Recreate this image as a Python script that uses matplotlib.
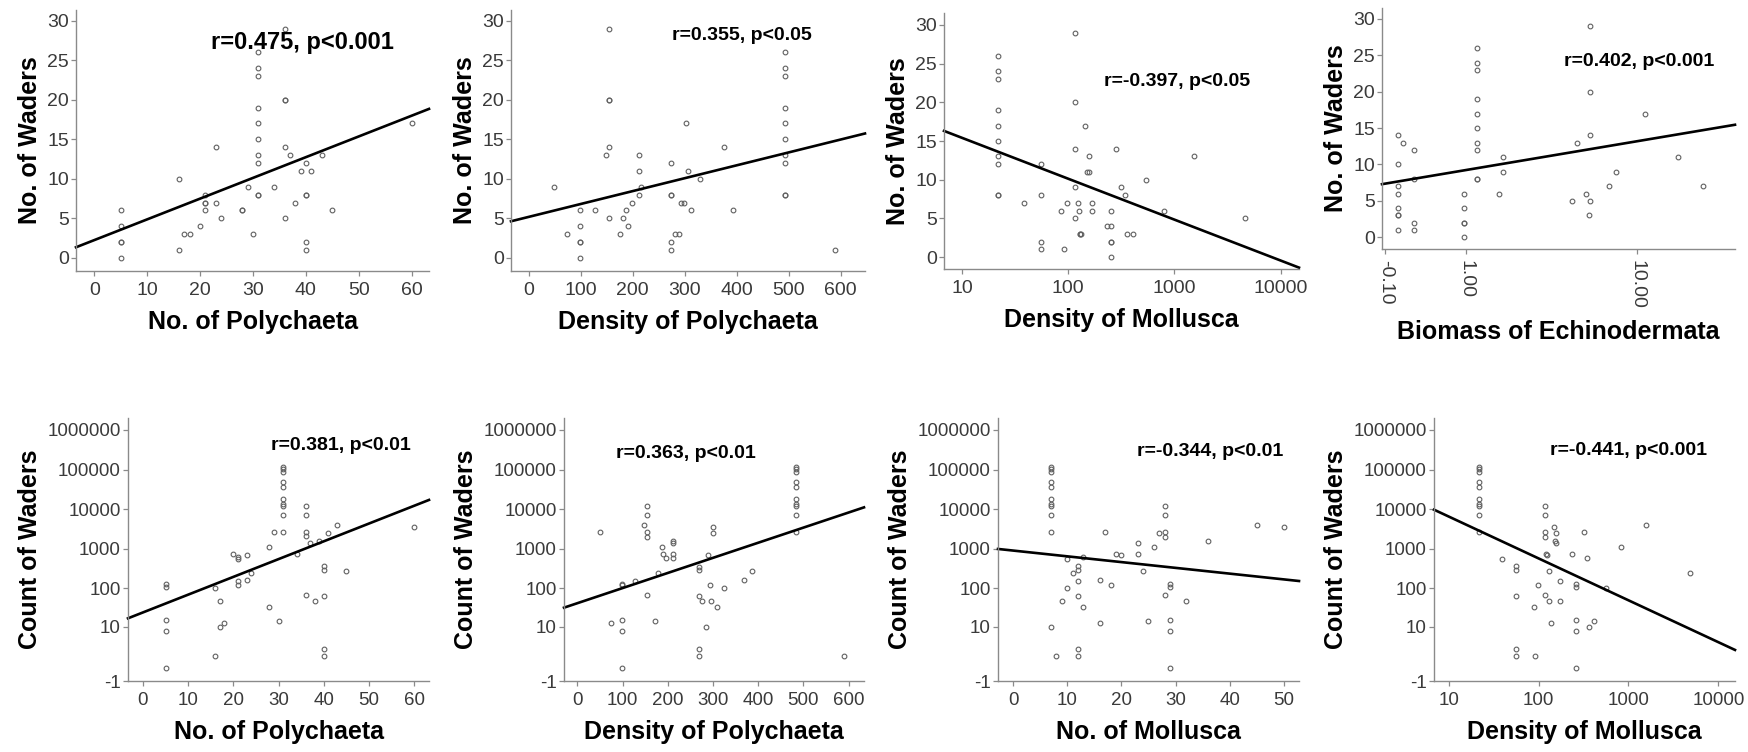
import numpy as np
import matplotlib
matplotlib.use("Agg")
import matplotlib.pyplot as plt

plt.rcParams['font.family'] = ['Liberation Sans', 'DejaVu Sans']

W, H = 1748, 752

# ---- data ----
# top row: No. of Waders
poly_no_x = [5, 5, 5, 5, 5, 16, 16, 17, 18, 20, 21, 21, 21, 21, 23, 23, 24, 28, 28, 29, 30,
             31, 31, 31, 31, 31, 31, 31, 31, 31, 31, 34, 36, 36, 36, 36, 36, 37, 38, 39,
             40, 40, 40, 40, 40, 41, 43, 45, 60]
poly_no_waders = [6, 4, 2, 2, 0, 10, 1, 3, 3, 4, 8, 7, 7, 6, 14, 7, 5, 6, 6, 9, 3,
                  26, 24, 23, 19, 17, 15, 13, 12, 8, 8, 9, 29, 20, 20, 14, 5, 13, 7, 11,
                  12, 8, 8, 2, 1, 11, 13, 6, 17]

poly_dens_x = [49, 73, 99, 99, 99, 99, 99, 127, 148, 154, 154, 154, 154, 154, 175, 181, 188,
               192, 198, 213, 213, 213, 216, 274, 274, 274, 274, 274, 281, 289, 293, 299,
               303, 306, 313, 330, 375, 393, 494, 494, 494, 494, 494, 494, 494, 494, 494,
               494, 589]
poly_dens_waders = [9, 3, 6, 4, 2, 2, 0, 6, 13, 29, 20, 20, 14, 5, 3, 5, 6, 4, 7, 13, 11, 8, 9,
                    12, 8, 8, 2, 1, 3, 3, 7, 7, 17, 11, 6, 10, 14, 6,
                    26, 24, 23, 19, 17, 15, 13, 12, 8, 8, 1]

moll_dens_x = [22, 22, 22, 22, 22, 22, 22, 22, 22, 22, 38.5, 56, 56, 56, 56, 86, 91, 98,
               116, 116, 116, 116, 116, 123, 127, 130, 130, 133, 144, 149, 157, 157, 169,
               169, 233, 254, 254, 254, 254, 254, 281, 313, 341, 354, 408, 545, 805, 1530,
               4660]
moll_dens_waders = [26, 24, 23, 19, 17, 15, 13, 12, 8, 8, 7, 12, 8, 2, 1, 6, 1, 7,
                    29, 20, 14, 9, 5, 7, 6, 3, 3, 3, 17, 11, 13, 11, 7, 6, 4,
                    6, 4, 2, 2, 0, 14, 9, 8, 3, 3, 10, 6, 13, 5]

echi_bio_x = [0.024, 0.024, 0.024, 0.024, 0.024, 0.024, 0.024, 0.024, 0.076, 0.197, 0.197,
              0.197, 0.197, 0.97, 0.97, 0.97, 0.97, 0.97, 1.23, 1.23, 1.23, 1.23, 1.23,
              1.23, 1.23, 1.23, 1.23, 1.23, 1.79, 1.89, 1.89, 4.74, 5.03, 5.61, 5.77,
              5.90, 5.90, 5.90, 5.90, 7.26, 7.86, 10.9, 15.5, 20.1]
echi_bio_waders = [14, 10, 7, 6, 4, 3, 3, 1, 13, 12, 8, 2, 1, 6, 4, 2, 2, 0,
                   26, 24, 23, 19, 17, 15, 13, 12, 8, 8, 6, 11, 9, 5, 13, 6, 3,
                   29, 20, 14, 5, 7, 9, 17, 11, 7]

# bottom row: Count of Waders
poly_no_x2 = [5, 5, 5, 5, 5, 16, 16, 17, 17, 18, 20, 21, 21, 21, 21, 23, 23, 24, 28, 28, 29,
              30, 31, 31, 31, 31, 31, 31, 31, 31, 31, 31, 34, 36, 36, 36, 36, 36, 37, 38,
              39, 40, 40, 40, 40, 40, 41, 43, 45, 60]
poly_no_count = [130, 112, 15.5, 7.7, 0, 103, 1, 47, 9.8, 12.6, 747, 615, 570, 155, 120,
                 705, 160, 247, 1100, 33, 2690, 14.6,
                 116700, 106000, 86000, 48600, 37500, 17800, 13600, 12300, 7060, 2640,
                 760, 12100, 7380, 2690, 2090, 68, 1420, 49, 1620,
                 365, 290, 64, 2, 1, 2580, 4080, 270, 3650]

poly_dens_x2 = [51, 74, 99, 99, 99, 99, 99, 127, 147, 153, 153, 153, 153, 153, 172, 179,
                187, 189, 195, 211, 211, 211, 211, 270, 270, 270, 270, 270, 276, 285, 290,
                293, 295, 300, 300, 308, 325, 368, 387,
                484, 484, 484, 484, 484, 484, 484, 484, 484, 484, 589]
poly_dens_count = [2690, 12.6, 133, 122, 15.5, 7.7, 0, 152, 4030, 12100, 7380, 2690, 2000, 68,
                   14.6, 243, 1100, 747, 580, 1590, 1440, 747, 590, 350, 290, 64, 2, 1,
                   48, 9.8, 705, 120, 49, 3650, 2580, 33, 105, 161, 270,
                   116700, 106000, 86000, 48600, 37500, 17800, 13600, 12300, 7060, 2640, 1]

moll_no_x = [7, 7, 7, 7, 7, 7, 7, 7, 7, 7, 7, 8, 9, 10, 10, 11, 12, 12, 12, 12, 12, 12,
             13, 13, 16, 16, 17, 18, 19, 20, 23, 23, 24, 25, 26, 27, 28, 28, 28, 28, 28,
             29, 29, 29, 29, 29, 32, 36, 45, 50]
moll_no_count = [116700, 106000, 86000, 48600, 37500, 17800, 13600, 12300, 7060, 2640, 9.8,
                 1, 47, 570, 103, 243, 365, 290, 152, 63, 2, 1, 615, 33, 161, 12.6, 2690,
                 120, 735, 705, 1390, 760, 270, 14.6, 1100, 2580, 12100, 7380, 2690, 2000,
                 68, 133, 112, 15.5, 7.7, 0, 49, 1560, 4080, 3650]

moll_dens_x2 = [22, 22, 22, 22, 22, 22, 22, 22, 22, 22, 39, 56.5, 56.5, 56.5, 56.5, 56.5, 89,
                92, 98, 117, 117, 117, 117, 117, 120, 123, 129, 132, 137, 147, 151, 158, 158,
                173, 175, 233, 260, 260, 260, 260, 260, 319, 348, 362, 416, 565, 830, 1585,
                4800]
moll_dens_count = [116700, 106000, 86000, 48600, 37500, 17800, 13600, 12300, 7060, 2640, 570,
                   365, 290, 63, 2, 1, 33, 1, 120, 12100, 7380, 2690, 2000, 68, 735, 705,
                   270, 47, 12.6, 3650, 1560, 2580, 1390, 152, 49, 735,
                   133, 112, 15.5, 7.7, 0, 2690, 590, 9.8, 14.6, 105, 1100, 4080, 247]

# fitted lines: (intercept, slope) in the plotted (transformed) space
fit_lines = [(2.26, 0.262), (5.19, 0.0163), (20.7, -5.29), (7.62, 5.36),
             (1.40, 0.0448), (1.633, 0.00381), (2.96, -0.01454), (4.874, -1.056)]
notes = ['r=0.475, p<0.001', 'r=0.355, p<0.05', 'r=-0.397, p<0.05', 'r=0.402, p<0.001',
         'r=0.381, p<0.01', 'r=0.363, p<0.01', 'r=-0.344, p<0.01', 'r=-0.441, p<0.001']

top_yticks = [0, 5, 10, 15, 20, 25, 30]
count_yticks = [-0.53, 10, 100, 1000, 10000, 100000, 1000000]
count_ylabels = ['-1', '10', '100', '1000', '10000', '100000', '1000000']
log_xticks = [10, 100, 1000, 10000]
echi_xticks = [-0.1, 1, 10]
echi_xlabels = ['-0.10', '1.00', '10.00']

GREY = '#8a8a8a'
TXT = '#3a3a3a'


def log1p10(v):
    return np.log10(np.asarray(v, dtype=float) + 1)


def inv_log1p10(v):
    return 10 ** np.asarray(v, dtype=float) - 1


def fwd(kind):
    return {'linear': lambda v: np.asarray(v, float), 'log': np.log10, 'log1p': log1p10}[kind]


def inv(kind):
    return {'linear': lambda v: np.asarray(v, float), 'log': lambda v: 10 ** np.asarray(v, float),
            'log1p': inv_log1p10}[kind]


def panel(box, x, y, xkind, ykind, xlim, ylim, xticks, xlabels, yticks, ylabels,
          xlab, ylab, fit, note, note_xy, note_size=14, rot=0, tick_size=14):
    l, t, r, b = box
    ax = fig.add_axes([l / W, 1 - b / H, (r - l) / W, (b - t) / H])
    if xkind == 'log':
        ax.set_xscale('log')
    elif xkind == 'log1p':
        ax.set_xscale('function', functions=(log1p10, inv_log1p10))
    if ykind == 'log1p':
        ax.set_yscale('function', functions=(log1p10, inv_log1p10))
    ax.set_xlim(xlim)
    ax.set_ylim(ylim)

    ax.plot(x, y, 'o', ls='none', ms=3.4, mfc='none', mec='#606060', mew=0.8, clip_on=False)

    a, s = fit
    tx = np.linspace(fwd(xkind)(xlim[0]), fwd(xkind)(xlim[1]), 200)
    ax.plot(inv(xkind)(tx), inv(ykind)(a + s * tx), color='black', lw=1.9, clip_on=False)

    ax.set_xticks(xticks)
    ax.set_xticklabels(xlabels if xlabels is not None else [str(v) for v in xticks],
                       rotation=rot, va='top')
    ax.set_yticks(yticks)
    ax.set_yticklabels(ylabels if ylabels is not None else [str(v) for v in yticks])
    ax.xaxis.set_minor_locator(matplotlib.ticker.NullLocator())
    ax.yaxis.set_minor_locator(matplotlib.ticker.NullLocator())

    for side in ['top', 'right']:
        ax.spines[side].set_visible(False)
    for side in ['left', 'bottom']:
        ax.spines[side].set_color(GREY)
        ax.spines[side].set_linewidth(1.0)
    ax.tick_params(direction='out', length=3.6, width=0.9, color=GREY,
                   labelsize=tick_size, labelcolor=TXT)
    ax.tick_params(axis='x', pad=4)
    ax.tick_params(axis='y', pad=1.5)
    ax.set_xlabel(xlab, fontsize=18, fontweight='bold', labelpad=8)
    ax.set_ylabel(ylab, fontsize=18, fontweight='bold', labelpad=4)
    fig.text(note_xy[0] / W, 1 - note_xy[1] / H, note, fontsize=note_size,
             fontweight='bold', ha='center', va='center')
    return ax


fig = plt.figure(figsize=(W / 100, H / 100), dpi=100)

panel((76, 10, 429, 271), poly_no_x, poly_no_waders, 'linear', 'linear', (-3.47, 63.3),
      (-1.65, 31.35), [0, 10, 20, 30, 40, 50, 60], None, top_yticks, None,
      'No. of Polychaeta', 'No. of Waders', fit_lines[0], notes[0], (302, 43), 17)
panel((511, 10, 865, 271), poly_dens_x, poly_dens_waders, 'linear', 'linear', (-34, 647),
      (-1.65, 31.35), [0, 100, 200, 300, 400, 500, 600], None, top_yticks, None,
      'Density of Polychaeta', 'No. of Waders', fit_lines[1], notes[1], (742, 35))
panel((944, 13, 1299, 269), moll_dens_x, moll_dens_waders, 'log', 'linear', (6.77, 14860),
      (-1.55, 31.55), log_xticks, None, top_yticks, None,
      'Density of Mollusca', 'No. of Waders', fit_lines[2], notes[2], (1177, 81))
panel((1382, 8, 1735, 249), echi_bio_x, echi_bio_waders, 'log1p', 'linear', (-0.13, 28),
      (-1.61, 31.5), echi_xticks, echi_xlabels, top_yticks, None,
      'Biomass of Echinodermata', 'No. of Waders', fit_lines[3], notes[3], (1639, 62), 14, -90)

panel((128, 418, 429, 681), poly_no_x2, poly_no_count, 'linear', 'log1p', (-3.3, 63.3),
      (-0.53, 2.0e6), [0, 10, 20, 30, 40, 50, 60], None, count_yticks, count_ylabels,
      'No. of Polychaeta', 'Count of Waders', fit_lines[4], notes[4], (341, 445),
      tick_size=13.5)
panel((564, 418, 864, 681), poly_dens_x2, poly_dens_count, 'linear', 'log1p', (-29.5, 634),
      (-0.53, 2.0e6), [0, 100, 200, 300, 400, 500, 600], None, count_yticks, count_ylabels,
      'Density of Polychaeta', 'Count of Waders', fit_lines[5], notes[5], (686, 454),
      tick_size=13.5)
panel((998, 418, 1299, 681), moll_no_x, moll_no_count, 'linear', 'log1p', (-2.77, 52.8),
      (-0.53, 2.0e6), [0, 10, 20, 30, 40, 50], None, count_yticks, count_ylabels,
      'No. of Mollusca', 'Count of Waders', fit_lines[6], notes[6], (1210, 452),
      tick_size=13.5)
panel((1434, 418, 1735, 681), moll_dens_x2, moll_dens_count, 'log', 'log1p', (6.87, 15300),
      (-0.53, 2.0e6), log_xticks, None, count_yticks, count_ylabels,
      'Density of Mollusca', 'Count of Waders', fit_lines[7], notes[7], (1628, 450),
      tick_size=13.5)

fig.savefig('out.png', dpi=100, facecolor='white')
